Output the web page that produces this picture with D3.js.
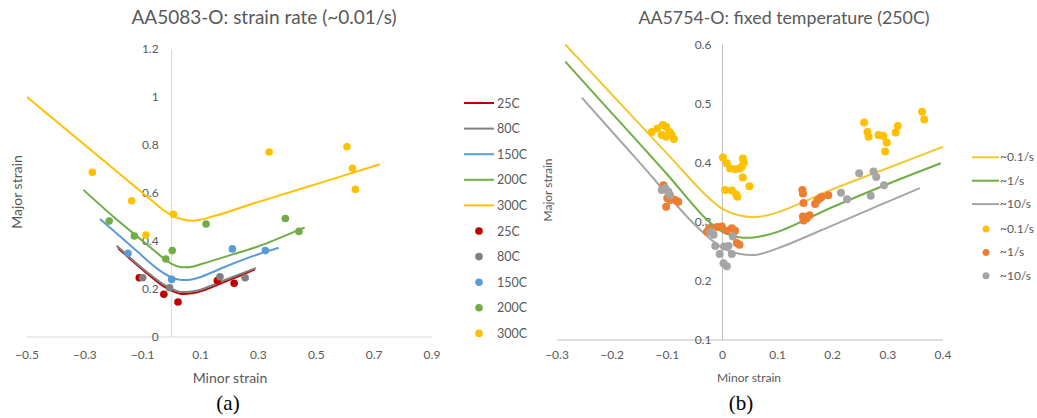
<!DOCTYPE html>
<html><head><meta charset="utf-8">
<script src="https://cdn.jsdelivr.net/npm/d3@7"></script>
<style>
html,body{margin:0;padding:0;background:#fff;}
svg{display:block;font-family:Lato,"Open Sans",sans-serif;}
</style></head>
<body>
<svg id="chart" width="1037" height="418"></svg>
<script>
// ---------- Chart (a): AA5083-O ----------
const aSeries = ["25C", "80C", "150C", "200C", "300C"];
const aColors = ["#C00000", "#7F7F7F", "#5B9BD5", "#70AD47", "#FFC000"];
const aXTicks = [-0.5, -0.3, -0.1, 0.1, 0.3, 0.5, 0.7, 0.9];
const aYTicks = [0, 0.2, 0.4, 0.6, 0.8, 1, 1.2];
const aLine25 = [[-0.185,0.37],[-0.1,0.28],[-0.03,0.213],[0,0.193],[0.03,0.18],[0.07,0.182],[0.1,0.19],[0.2,0.238],[0.288,0.282]];
const aLine80 = [[-0.19,0.38],[-0.1,0.285],[-0.03,0.22],[0,0.2],[0.03,0.188],[0.07,0.19],[0.1,0.197],[0.2,0.245],[0.291,0.287]];
const aLine150 = [[-0.248,0.492],[-0.15,0.39],[-0.05,0.285],[0,0.248],[0.03,0.238],[0.07,0.24],[0.1,0.25],[0.2,0.30],[0.3,0.345],[0.37,0.372]];
const aLine200 = [[-0.305,0.613],[-0.2,0.50],[-0.1,0.40],[-0.03,0.33],[0,0.305],[0.03,0.292],[0.07,0.293],[0.1,0.303],[0.2,0.34],[0.3,0.378],[0.46,0.457]];
const aLine300 = [[-0.5,1.0],[-0.3,0.80],[-0.1,0.60],[-0.03,0.53],[0,0.507],[0.04,0.49],[0.08,0.485],[0.15,0.505],[0.3,0.563],[0.5,0.637],[0.72,0.72]];
const aPts25 = [[-0.112,0.247],[-0.027,0.178],[0.022,0.146],[0.158,0.235],[0.216,0.224]];
const aPts80 = [[-0.1,0.247],[-0.007,0.205],[0.167,0.251],[0.254,0.247]];
const aPts150 = [[-0.151,0.349],[0,0.24],[0.21,0.367],[0.324,0.36]];
const aPts200 = [[-0.216,0.483],[-0.129,0.421],[-0.02,0.325],[0.002,0.36],[0.119,0.471],[0.393,0.494],[0.44,0.44]];
const aPts300 = [[-0.274,0.686],[-0.138,0.568],[-0.089,0.425],[0.006,0.511],[0.337,0.771],[0.606,0.793],[0.625,0.703],[0.635,0.615]];

// ---------- Chart (b): AA5754-O ----------
const bSeries = ["~0.1/s", "~1/s", "~10/s"];
const bLineColors = ["#F0C832", "#70AD47", "#A5A5A5"];
const bPtColors = ["#FFC000", "#ED7D31", "#A5A5A5"];
const bXTicks = [-0.3, -0.2, -0.1, 0, 0.1, 0.2, 0.3, 0.4];
const bYTicks = [0.1, 0.2, 0.3, 0.4, 0.5, 0.6];
const bLine01 = [[-0.285,0.6],[-0.2,0.515],[-0.1,0.415],[-0.03,0.345],[0,0.322],[0.03,0.311],[0.06,0.308],[0.1,0.316],[0.2,0.355],[0.3,0.391],[0.4,0.427]];
const bLine1 = [[-0.285,0.571],[-0.222,0.506],[-0.1,0.38],[-0.03,0.305],[0,0.283],[0.03,0.274],[0.06,0.274],[0.1,0.283],[0.2,0.325],[0.3,0.364],[0.396,0.399]];
const bLine10 = [[-0.255,0.51],[-0.15,0.40],[-0.05,0.295],[0,0.256],[0.03,0.246],[0.06,0.244],[0.1,0.255],[0.2,0.294],[0.3,0.334],[0.358,0.357]];
const bPts01 = [[-0.128,0.452],[-0.118,0.458],[-0.108,0.464],[-0.102,0.461],[-0.096,0.452],[-0.11,0.447],[-0.102,0.444],[-0.092,0.447],[-0.088,0.44],
  [0.001,0.409],[0.008,0.399],[0.014,0.39],[0.023,0.389],[0.031,0.39],[0.037,0.407],[0.039,0.4],[0.035,0.393],[0.037,0.375],[0.049,0.36],
  [0.005,0.354],[0.017,0.353],[0.025,0.346],[0.027,0.3425],
  [0.257,0.468],[0.263,0.452],[0.265,0.444],[0.283,0.447],[0.292,0.445],[0.298,0.434],[0.295,0.419],[0.314,0.451],[0.318,0.462],[0.362,0.486],[0.366,0.473]];
const bPts1 = [[-0.107,0.362],[-0.102,0.354],[-0.1,0.34],[-0.095,0.337],[-0.086,0.337],[-0.08,0.334],[-0.102,0.3255],[-0.094,0.342],
  [-0.028,0.283],[-0.024,0.289],[-0.01,0.291],[-0.001,0.292],[0.008,0.285],[0.017,0.289],[0.023,0.285],[0.026,0.264],[0.031,0.261],
  [0.145,0.354],[0.146,0.348],[0.147,0.332],[0.146,0.309],[0.147,0.302],[0.153,0.306],[0.158,0.311],[0.168,0.33],[0.172,0.336],[0.177,0.34],[0.18,0.3425],[0.192,0.345]];
const bPts10 = [[-0.11,0.354],[-0.104,0.357],[-0.098,0.351],[-0.095,0.345],
  [-0.022,0.283],[-0.016,0.278],[-0.013,0.259],[-0.005,0.2455],[0.002,0.23],[0.008,0.225],[0.003,0.258],[0.017,0.2455],[0.019,0.275],[0.011,0.259],
  [0.215,0.349],[0.226,0.338],[0.248,0.382],[0.269,0.344],[0.274,0.385],[0.279,0.376],[0.293,0.362]];

const svg = d3.select("#chart");
const txt = "#595959";
const smooth = d3.curveCatmullRom.alpha(0.5);

// ===== Chart (a) =====
const ax = d3.scaleLinear().domain([-0.5, 0.9]).range([27, 432]);
const ay = d3.scaleLinear().domain([0, 1.2]).range([337, 49]);
const ga = svg.append("g");
ga.append("text").attr("x", 264).attr("y", 24).attr("text-anchor", "middle")
  .attr("font-size", 19).attr("fill", txt).text("AA5083-O: strain rate (~0.01/s)");
ga.append("line").attr("x1", ax(-0.5)).attr("x2", ax(0.9)).attr("y1", ay(0)).attr("y2", ay(0)).attr("stroke", "#D9D9D9");
ga.append("line").attr("x1", ax(0)).attr("x2", ax(0)).attr("y1", ay(0)).attr("y2", ay(1.2)).attr("stroke", "#D9D9D9");
ga.selectAll(".axt").data(aXTicks).join("text").attr("x", d => ax(d)).attr("y", 359)
  .attr("text-anchor", "middle").attr("font-size", 12).attr("fill", txt).text(d => d3.format("")(d));
ga.selectAll(".ayt").data(aYTicks).join("text").attr("x", ax(0) - 13).attr("y", d => ay(d) + 4)
  .attr("text-anchor", "end").attr("font-size", 12).attr("fill", txt).text(d => d3.format("")(d));
ga.append("text").attr("x", 230).attr("y", 383).attr("text-anchor", "middle").attr("font-size", 14).attr("fill", txt).text("Minor strain");
ga.append("text").attr("transform", "translate(22,192) rotate(-90)").attr("text-anchor", "middle").attr("font-size", 14).attr("fill", txt).text("Major strain");

const aLines = [aLine25, aLine80, aLine150, aLine200, aLine300];
const aPts = [aPts25, aPts80, aPts150, aPts200, aPts300];
const aLineGen = d3.line().x(d => ax(d[0])).y(d => ay(d[1])).curve(smooth);
aLines.forEach((L, i) => ga.append("path").attr("d", aLineGen(L)).attr("fill", "none")
  .attr("stroke", aColors[i]).attr("stroke-width", 2));
aPts.forEach((P, i) => ga.append("g").selectAll("circle").data(P).join("circle")
  .attr("cx", d => ax(d[0])).attr("cy", d => ay(d[1])).attr("r", 3.8).attr("fill", aColors[i]));

const la = ga.append("g");
aSeries.forEach((s, i) => {
  const y = 103 + i * 25.6;
  la.append("line").attr("x1", 464).attr("x2", 494).attr("y1", y).attr("y2", y).attr("stroke", aColors[i]).attr("stroke-width", 2);
  la.append("text").attr("x", 497).attr("y", y + 4.5).attr("font-size", 12.5).attr("fill", txt).text(s);
});
aSeries.forEach((s, i) => {
  const y = 231 + i * 25.6;
  la.append("circle").attr("cx", 479).attr("cy", y).attr("r", 3.8).attr("fill", aColors[i]);
  la.append("text").attr("x", 497).attr("y", y + 4.5).attr("font-size", 12.5).attr("fill", txt).text(s);
});

// ===== Chart (b) =====
const bx = d3.scaleLinear().domain([-0.3, 0.4]).range([557, 943]);
const by = d3.scaleLinear().domain([0.1, 0.6]).range([340, 44.5]);
const gb = svg.append("g");
gb.append("text").attr("x", 784).attr("y", 24).attr("text-anchor", "middle")
  .attr("font-size", 17.8).attr("fill", txt).text("AA5754-O: fixed temperature (250C)");
gb.append("line").attr("x1", bx(-0.3)).attr("x2", bx(0.4)).attr("y1", by(0.1)).attr("y2", by(0.1)).attr("stroke", "#BFBFBF");
gb.append("line").attr("x1", bx(0)).attr("x2", bx(0)).attr("y1", by(0.1)).attr("y2", by(0.6)).attr("stroke", "#BFBFBF");
gb.selectAll(".bxt").data(bXTicks).join("text").attr("x", d => bx(d)).attr("y", 359)
  .attr("text-anchor", "middle").attr("font-size", 12).attr("fill", txt).text(d => d3.format("")(d));
gb.selectAll(".byt").data(bYTicks).join("text").attr("x", bx(0) - 11).attr("y", d => by(d) + 4)
  .attr("text-anchor", "end").attr("font-size", 12).attr("fill", txt).text(d => d3.format("")(d));
gb.append("text").attr("x", 749).attr("y", 382).attr("text-anchor", "middle").attr("font-size", 12).attr("fill", txt).text("Minor strain");
gb.append("text").attr("transform", "translate(552,190) rotate(-90)").attr("text-anchor", "middle").attr("font-size", 12).attr("fill", txt).text("Major strain");

const bLines = [bLine01, bLine1, bLine10];
const bPts = [bPts01, bPts1, bPts10];
const bLineGen = d3.line().x(d => bx(d[0])).y(d => by(d[1])).curve(smooth);
bLines.forEach((L, i) => gb.append("path").attr("d", bLineGen(L)).attr("fill", "none")
  .attr("stroke", bLineColors[i]).attr("stroke-width", 2));
bPts.forEach((P, i) => gb.append("g").selectAll("circle").data(P).join("circle")
  .attr("cx", d => bx(d[0])).attr("cy", d => by(d[1])).attr("r", 4).attr("fill", bPtColors[i]));

const lb = gb.append("g");
bSeries.forEach((s, i) => {
  const y = 157.3 + i * 23.4;
  lb.append("line").attr("x1", 972).attr("x2", 999).attr("y1", y).attr("y2", y).attr("stroke", bLineColors[i]).attr("stroke-width", 2);
  lb.append("text").attr("x", 1000).attr("y", y + 4).attr("font-size", 12).attr("fill", txt).text(s);
});
bSeries.forEach((s, i) => {
  const y = 229 + i * 23.4;
  lb.append("circle").attr("cx", 986).attr("cy", y).attr("r", 3.5).attr("fill", bPtColors[i]);
  lb.append("text").attr("x", 1000).attr("y", y + 4).attr("font-size", 12).attr("fill", txt).text(s);
});

// captions
svg.append("text").attr("x", 228).attr("y", 410).attr("text-anchor", "middle")
  .attr("font-family", "'Liberation Serif','Times New Roman',serif").attr("font-size", 21).attr("fill", "#000").text("(a)");
svg.append("text").attr("x", 741).attr("y", 410).attr("text-anchor", "middle")
  .attr("font-family", "'Liberation Serif','Times New Roman',serif").attr("font-size", 21).attr("fill", "#000").text("(b)");
</script>
</body></html>
